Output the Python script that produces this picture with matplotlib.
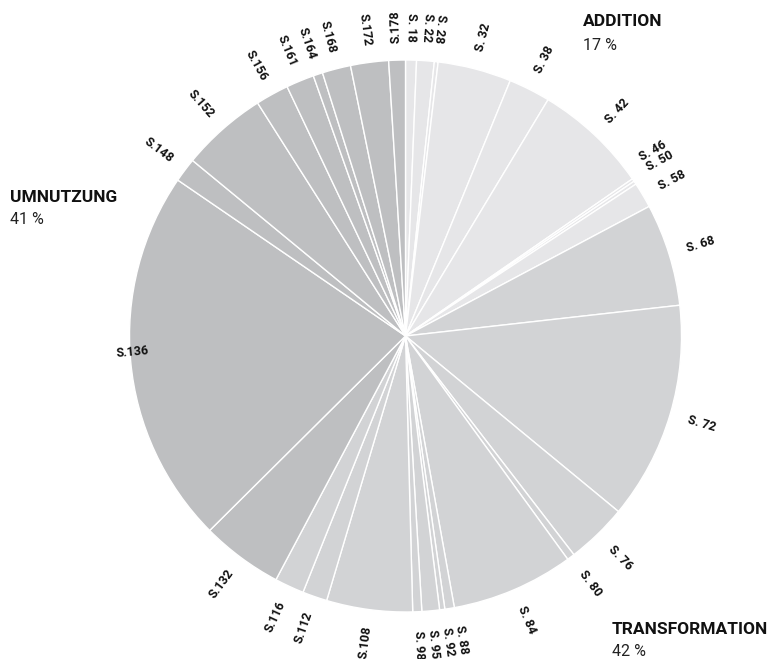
import numpy as np
import matplotlib
matplotlib.use("Agg")
import matplotlib.pyplot as plt

plt.rcParams['font.family'] = ['Roboto', 'DejaVu Sans']

# ---- data -------------------------------------------------------------
labels = ["S. 18", "S. 22", "S. 28", "S. 32", "S. 38", "S. 42", "S. 46", "S. 50", "S. 58",
          "S. 68", "S. 72", "S. 76", "S. 80", "S. 84", "S. 88", "S. 92", "S. 95", "S. 98",
          "S.108", "S.112", "S.116",
          "S.132", "S.136", "S.148", "S.152", "S.156", "S.161", "S.164", "S.168", "S.172", "S.178"]
values = [2.3, 3.7, 0.8, 15.5, 8.8, 24.2, 0.6, 0.7, 5.4,
          21.6, 45.9, 12.9, 1.6, 25.8, 2.0, 1.1, 3.7, 1.9,
          18.1, 5.2, 6.2,
          17.2, 79.2, 5.1, 18.1, 7.0, 5.9, 2.0, 6.0, 8.0, 3.5]
groups = ["A"] * 9 + ["T"] * 12 + ["U"] * 10
group_names = {"A": "ADDITION", "T": "TRANSFORMATION", "U": "UMNUTZUNG"}
group_pct = {"A": "17 %", "T": "42 %", "U": "41 %"}

# ---- style ------------------------------------------------------------
group_colors = {"A": "#e6e6e8", "T": "#d2d3d5", "U": "#bebfc1"}
W, H = 780, 659
cx, cy, R = 405.5, H - 336, 276
label_r = 309
# small placement nudges for crowded labels (angle in degrees clockwise from top)
label_angle_nudge = {"S. 46": -2.4, "S. 50": -0.8, "S. 58": 0.4,
                     "S. 88": -1.2, "S. 92": -0.3, "S.136": 1.8}
label_rot_nudge = {"S. 46": -5, "S. 50": -5, "S. 58": -3}
label_r_override = {"S.136": 273}

fig = plt.figure(figsize=(W / 100, H / 100), dpi=100)
ax = fig.add_axes([0, 0, 1, 1])

colors = [group_colors[g] for g in groups]
ax.pie(values, colors=colors, startangle=90, counterclock=False,
       center=(cx, cy), radius=R, frame=True,
       wedgeprops=dict(edgecolor='white', linewidth=1.0))
ax.set_xlim(0, W)
ax.set_ylim(0, H)
ax.set_aspect('equal')
ax.axis('off')

total = float(sum(values))
cum = np.cumsum([0] + values)
for i, lab in enumerate(labels):
    th = (cum[i] + cum[i + 1]) / 2 / total * 360.0  # clockwise from top
    inward = (180 < th < 358) or th < 10
    rot = (-90 - th) if inward else (90 - th)
    rot = (rot + 180) % 360 - 180 + label_rot_nudge.get(lab, 0)
    th = th + label_angle_nudge.get(lab, 0.0)
    r = label_r_override.get(lab, label_r)
    x = cx + r * np.sin(np.radians(th))
    y = cy + r * np.cos(np.radians(th))
    ax.text(x, y, lab, rotation=rot, rotation_mode='anchor',
            ha='center', va='center', fontsize=9, fontweight='semibold',
            color='#111111')

# group headers
hdr = {"A": (583, 22), "U": (10, 197), "T": (612, 629)}
for g, (px, py) in hdr.items():
    ax.text(px, H - py, group_names[g], ha='left', va='center',
            fontsize=12.5, fontweight='bold', color='#111111')
    ax.text(px, H - py - 23, group_pct[g], ha='left', va='center',
            fontsize=11.5, color='#222222')

fig.savefig("out.png", dpi=100)
